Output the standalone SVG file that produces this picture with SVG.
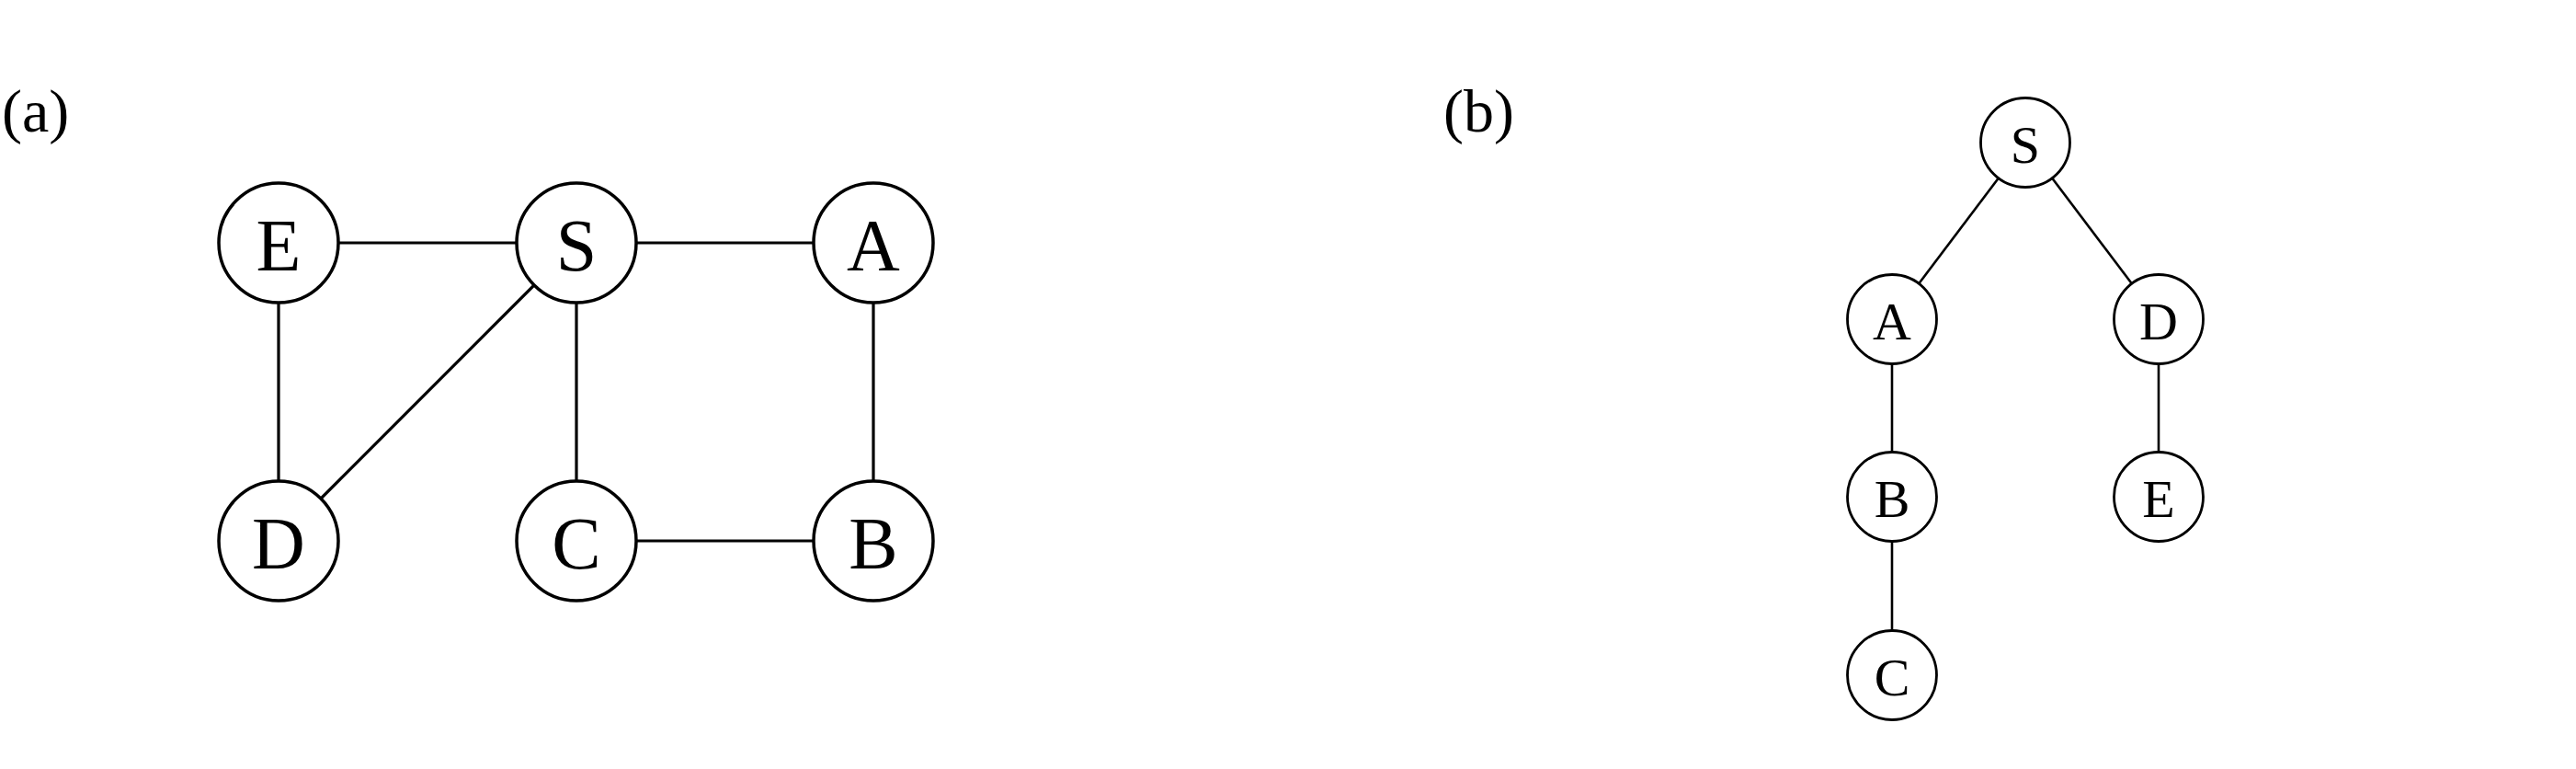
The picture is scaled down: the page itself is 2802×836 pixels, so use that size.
<svg xmlns="http://www.w3.org/2000/svg" width="2802" height="836" viewBox="0 0 2802 836">
<style>
.n1{fill:#fff;stroke:#000;stroke-width:3.5}
.n2{fill:#fff;stroke:#000;stroke-width:2.8}
.t1{font-family:"Liberation Serif",serif;font-size:80px;text-anchor:middle;fill:#000}
.t2{font-family:"Liberation Serif",serif;font-size:58px;text-anchor:middle;fill:#000}
.lab{font-family:"Liberation Serif",serif;font-size:66px;fill:#000}
.e1{stroke:#000;stroke-width:3.2;fill:none}
.e2{stroke:#000;stroke-width:2.6;fill:none}
</style>
<rect width="2802" height="836" fill="#fff"/>
<text class="lab" x="2" y="143">(a)</text>
<text class="lab" x="1570" y="143">(b)</text>
<g id="connectors">
<line class="e1" x1="303" y1="264" x2="627" y2="264"/>
<line class="e1" x1="627" y1="264" x2="950" y2="264"/>
<line class="e1" x1="303" y1="264" x2="303" y2="588"/>
<line class="e1" x1="627" y1="264" x2="303" y2="588"/>
<line class="e1" x1="627" y1="264" x2="627" y2="588"/>
<line class="e1" x1="950" y1="264" x2="950" y2="588"/>
<line class="e1" x1="627" y1="588" x2="950" y2="588"/>
<line class="e2" x1="2203" y1="155" x2="2058" y2="347"/>
<line class="e2" x1="2203" y1="155" x2="2348" y2="347"/>
<line class="e2" x1="2058" y1="347" x2="2058" y2="540"/>
<line class="e2" x1="2058" y1="540" x2="2058" y2="734"/>
<line class="e2" x1="2348" y1="347" x2="2348" y2="540"/>
</g>
<g id="a-E"><circle class="n1" cx="303" cy="264" r="65"/><text class="t1" x="303" y="294">E</text></g>
<g id="a-S"><circle class="n1" cx="627" cy="264" r="65"/><text class="t1" x="627" y="294">S</text></g>
<g id="a-A"><circle class="n1" cx="950" cy="264" r="65"/><text class="t1" x="950" y="294">A</text></g>
<g id="a-D"><circle class="n1" cx="303" cy="588" r="65"/><text class="t1" x="303" y="618">D</text></g>
<g id="a-C"><circle class="n1" cx="627" cy="588" r="65"/><text class="t1" x="627" y="618">C</text></g>
<g id="a-B"><circle class="n1" cx="950" cy="588" r="65"/><text class="t1" x="950" y="618">B</text></g>
<g id="b-S"><circle class="n2" cx="2203" cy="155" r="48.5"/><text class="t2" x="2203" y="177">S</text></g>
<g id="b-A"><circle class="n2" cx="2058" cy="347" r="48.5"/><text class="t2" x="2058" y="369">A</text></g>
<g id="b-D"><circle class="n2" cx="2348" cy="347" r="48.5"/><text class="t2" x="2348" y="369">D</text></g>
<g id="b-B"><circle class="n2" cx="2058" cy="540" r="48.5"/><text class="t2" x="2058" y="562">B</text></g>
<g id="b-E"><circle class="n2" cx="2348" cy="540" r="48.5"/><text class="t2" x="2348" y="562">E</text></g>
<g id="b-C"><circle class="n2" cx="2058" cy="734" r="48.5"/><text class="t2" x="2058" y="756">C</text></g>
</svg>
